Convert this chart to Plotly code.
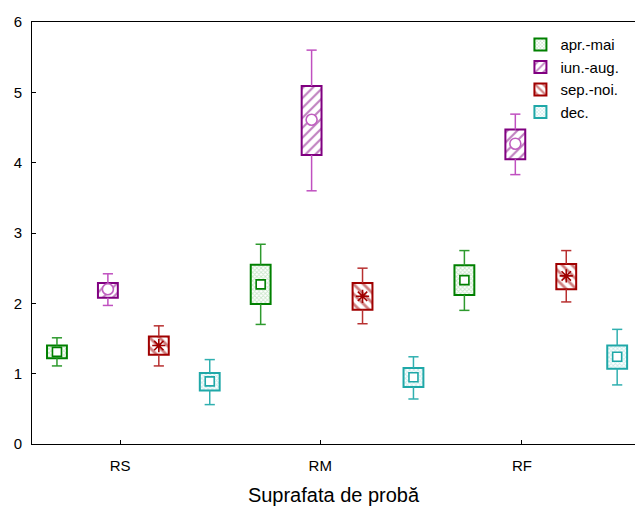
import plotly.graph_objects as go

# Sample surfaces (categories) and seasons (series)
groups = ["RS", "RM", "RF"]
series_names = ["apr.-mai", "iun.-aug.", "sep.-noi.", "dec."]

# Per season: lower whisker, box bottom, centre, box top, upper whisker (RS, RM, RF)
apr_mai_min = [1.11, 1.70, 1.90]
apr_mai_q1 = [1.22, 1.99, 2.12]
apr_mai_med = [1.31, 2.27, 2.33]
apr_mai_q3 = [1.40, 2.55, 2.54]
apr_mai_max = [1.51, 2.84, 2.75]

iun_aug_min = [1.97, 3.60, 3.83]
iun_aug_q1 = [2.08, 4.11, 4.05]
iun_aug_med = [2.20, 4.61, 4.27]
iun_aug_q3 = [2.29, 5.09, 4.47]
iun_aug_max = [2.42, 5.60, 4.69]

sep_noi_min = [1.11, 1.71, 2.02]
sep_noi_q1 = [1.27, 1.91, 2.20]
sep_noi_med = [1.40, 2.10, 2.39]
sep_noi_q3 = [1.53, 2.29, 2.56]
sep_noi_max = [1.68, 2.50, 2.75]

dec_min = [0.56, 0.64, 0.84]
dec_q1 = [0.76, 0.81, 1.07]
dec_med = [0.89, 0.95, 1.24]
dec_q3 = [1.01, 1.08, 1.40]
dec_max = [1.20, 1.24, 1.63]

stats = [
    (apr_mai_min, apr_mai_q1, apr_mai_med, apr_mai_q3, apr_mai_max),
    (iun_aug_min, iun_aug_q1, iun_aug_med, iun_aug_q3, iun_aug_max),
    (sep_noi_min, sep_noi_q1, sep_noi_med, sep_noi_q3, sep_noi_max),
    (dec_min, dec_q1, dec_med, dec_q3, dec_max),
]

# Styling per season
styles = [
    dict(edge="#008000", whisk="#2e9a2e", pat=dict(shape="x", fgcolor="#98cf98", bgcolor="#ffffff", size=3, solidity=0.5),
         sym="square", msize=9, mline="#008000", mfill="#ffffff"),
    dict(edge="#800080", whisk="#c050c0", pat=dict(shape="/", fgcolor="#800080", bgcolor="#ffffff", size=7, solidity=0.3),
         sym="circle", msize=11, mline="#c060c0", mfill="#ffffff"),
    dict(edge="#a00000", whisk="#b83030", pat=dict(shape="\\", fgcolor="#a00000", bgcolor="#ffffff", size=7, solidity=0.4),
         sym="asterisk-open", msize=11, mline="#a00000", mfill="#a00000"),
    dict(edge="#1fa8a8", whisk="#30b0b0", pat=dict(shape="x", fgcolor="#98d8d8", bgcolor="#ffffff", size=3, solidity=0.5),
         sym="square", msize=9, mline="#1fa8a8", mfill="#ffffff"),
]

n_series = len(series_names)
box_w = 0.39
cap = 0.1
# Category label positions along the box index axis
tick_pos = [1.24, 5.17, 9.13]

fig = go.Figure()

# Boxes
for s, (name, st, sty) in enumerate(zip(series_names, stats, styles)):
    lo, q1, med, q3, hi = st
    xs = [g * n_series + s for g in range(len(groups))]
    fig.add_trace(go.Bar(
        x=xs, y=[b - a for a, b in zip(q1, q3)], base=q1, width=box_w,
        name=name,
        marker=dict(color="#ffffff", pattern=sty["pat"],
                    line=dict(color=sty["edge"], width=2)),
        hoverinfo="skip",
    ))

# Whiskers and centre markers
for s, (name, st, sty) in enumerate(zip(series_names, stats, styles)):
    lo, q1, med, q3, hi = st
    wx, wy = [], []
    for g in range(len(groups)):
        x = g * n_series + s
        wx += [x, x, None, x - cap, x + cap, None, x, x, None, x - cap, x + cap, None]
        wy += [q3[g], hi[g], None, hi[g], hi[g], None, q1[g], lo[g], None, lo[g], lo[g], None]
    fig.add_trace(go.Scatter(x=wx, y=wy, mode="lines", showlegend=False,
                             line=dict(color=sty["whisk"], width=1.5), hoverinfo="skip"))
    xs = [g * n_series + s for g in range(len(groups))]
    fig.add_trace(go.Scatter(
        x=xs, y=med, mode="markers", showlegend=False,
        marker=dict(symbol=sty["sym"], size=sty["msize"], color=sty["mfill"],
                    line=dict(color=sty["mline"], width=1.6)),
    ))

fig.update_layout(
    width=635, height=506,
    margin=dict(l=32, r=0, t=22, b=62),
    paper_bgcolor="#ffffff", plot_bgcolor="#ffffff",
    font=dict(family="Liberation Sans, Arial, sans-serif", size=15, color="#000000"),
    barmode="overlay",
    showlegend=True,
    legend=dict(x=0.81, y=0.985, xanchor="left", yanchor="top",
                bgcolor="rgba(0,0,0,0)", font=dict(size=15), tracegroupgap=0),
    xaxis=dict(range=[-0.49, 11.35], tickvals=tick_pos, ticktext=groups,
               ticks="inside", ticklen=4, tickcolor="#000000",
               showline=True, linecolor="#000000", linewidth=1, mirror=True,
               showgrid=False, zeroline=False, ticklabelstandoff=8,
               title=dict(text="Suprafata de probă", font=dict(size=20), standoff=15)),
    yaxis=dict(range=[0, 6], dtick=1, tick0=0,
               ticks="inside", ticklen=4, tickcolor="#000000",
               showline=True, linecolor="#000000", linewidth=1,
               showgrid=False, zeroline=False, ticklabelstandoff=6),
)

fig.write_html("out.html")
